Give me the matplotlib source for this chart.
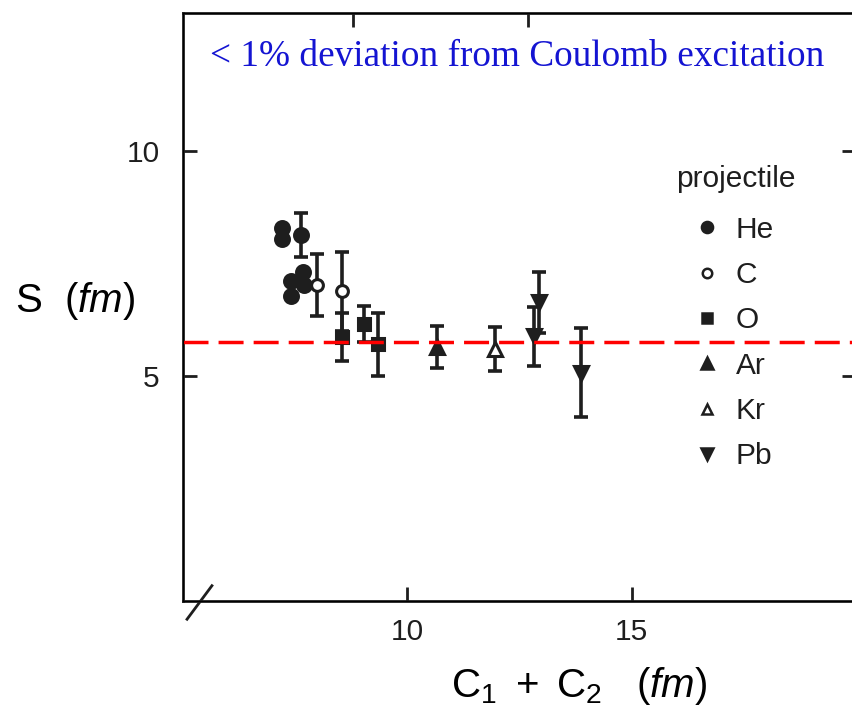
import numpy as np
import matplotlib.pyplot as plt
from matplotlib.lines import Line2D

# S (fm) against C1 + C2 (fm), one group per projectile
he_x = [7.20, 7.20, 7.62, 7.40, 7.40, 7.67, 7.70]
he_y = [8.28, 8.04, 8.13, 7.12, 6.78, 7.32, 7.02]
he_err = [0.0, 0.0, 0.49, 0.0, 0.0, 0.0, 0.0]

c_x = [7.98, 8.55]
c_y = [7.03, 6.88]
c_err = [0.69, 0.87]

o_x = [8.55, 9.04, 9.34]
o_y = [5.87, 6.16, 5.71]
o_err = [0.53, 0.40, 0.70]

ar_x = [10.67]
ar_y = [5.64]
ar_err = [0.47]

kr_x = [11.95]
kr_y = [5.60]
kr_err = [0.48]

pb_x = [12.94, 12.83, 13.86]
pb_y = [6.64, 5.88, 5.07]
pb_err = [0.68, 0.66, 0.99]

coulomb_level = 5.75
xticks = [10, 15]
yticks = [5, 10]
top_ticks = [8.8, 12.7]
note = '< 1% deviation from Coulomb excitation'

plt.rcParams['mathtext.fontset'] = 'custom'
plt.rcParams['mathtext.rm'] = 'Liberation Sans'
plt.rcParams['mathtext.it'] = 'Liberation Sans:italic'

tick_family = 'Liberation Sans'
ink = '#1e1e1e'
fig = plt.figure(figsize=(8.52, 7.16), dpi=100)
ax = fig.add_axes([183 / 852, 1 - 601 / 716, 673 / 852, 588 / 716])
ax.set_xlim(5, 20)
ax.set_ylim(0, 13.07)

groups = [
    ('He', he_x, he_y, he_err, 'o', ink, 10),
    ('C', c_x, c_y, c_err, 'o', 'white', 8.5),
    ('O', o_x, o_y, o_err, 's', ink, 9),
    ('Ar', ar_x, ar_y, ar_err, '^', ink, 10),
    ('Kr', kr_x, kr_y, kr_err, '^', 'white', 9.5),
    ('Pb', pb_x, pb_y, pb_err, 'v', ink, 10),
]

for name, xs, ys, errs, mk, face, ms in groups:
    xs, ys, errs = np.array(xs), np.array(ys), np.array(errs)
    bar = errs > 0
    ax.errorbar(xs[bar], ys[bar], yerr=errs[bar], fmt='none', ecolor=ink,
                elinewidth=2.6, capsize=5, capthick=2.6, zorder=2)
    ax.plot(xs, ys, linestyle='none', marker=mk, ms=ms, mfc=face, mec=ink,
            mew=2.2, zorder=3)

ax.axhline(coulomb_level, color='#ff0000', lw=2.5, dashes=(7.2, 2.9), zorder=4)

for side in ['left', 'bottom', 'top', 'right']:
    ax.spines[side].set_linewidth(2.0)
    ax.spines[side].set_color(ink)

ax.set_xticks(xticks)
ax.set_yticks(yticks)
ax.tick_params(direction='in', length=10, width=2.0, color=ink,
               labelsize=21.5, labelcolor=ink, right=True)
ax.tick_params(axis='x', pad=12)
ax.tick_params(axis='y', pad=17)
for lab in ax.get_xticklabels() + ax.get_yticklabels():
    lab.set_family(tick_family)

top = ax.twiny()
top.set_xlim(ax.get_xlim())
top.set_xticks(top_ticks)
top.tick_params(direction='in', length=10, width=2.0, color=ink, labeltop=False)

# axis break on the bottom left
ax.plot([0.006, 0.043], [-0.031, 0.026], transform=ax.transAxes, color=ink,
        lw=2.0, clip_on=False)

ax.set_xlabel(r'$\mathrm{C}_1\ +\ \mathrm{C}_2\ \ \ (\mathit{fm})$', fontsize=29,
              va='center')
ax.xaxis.set_label_coords(0.588, -0.145)
ax.set_ylabel(r'$\mathrm{S}\ \ (\mathit{fm})$', fontsize=29, rotation=0,
              ha='center', va='center')
ax.yaxis.set_label_coords(-0.16, 0.51)

ax.text(0.497, 0.926, note, transform=ax.transAxes, ha='center', va='center',
        fontsize=26.8, color='#1414d2', family='Liberation Serif')

# legend
ax.text(0.733, 0.718, 'projectile', transform=ax.transAxes, ha='left',
        va='center', fontsize=21.5, family=tick_family, color=ink)
handles = [Line2D([], [], linestyle='none', marker=mk, ms=ms * 0.8, mfc=face,
                  mec=ink, mew=1.8) for _, _, _, _, mk, face, ms in groups]
labels = [g[0] for g in groups]
leg = ax.legend(handles, labels, frameon=False,
                loc='upper left', bbox_to_anchor=(0.745, 0.655),
                borderpad=0, borderaxespad=0, handlelength=1.5,
                handletextpad=0.22, labelspacing=0.58,
                prop={'family': tick_family, 'size': 21.5})
for t in leg.get_texts():
    t.set_color(ink)

fig.savefig('out.png', dpi=100)
